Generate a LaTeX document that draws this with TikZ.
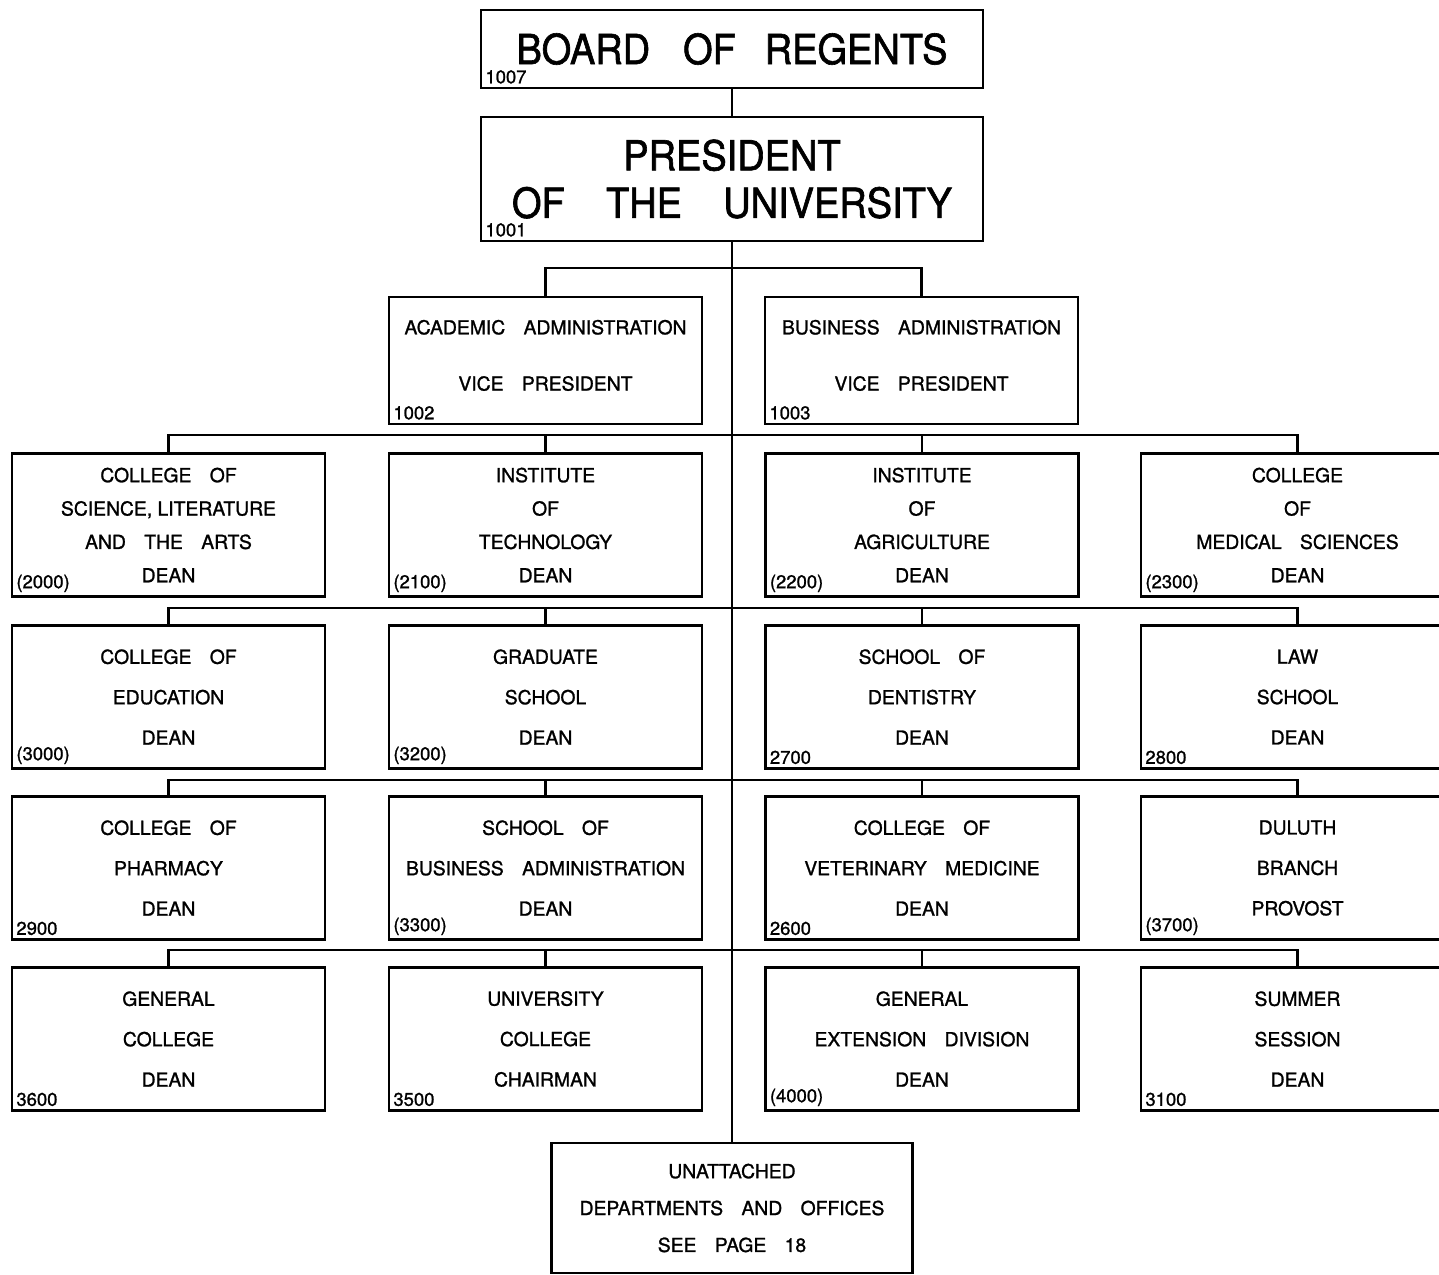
\documentclass[tikz,border=0pt]{standalone}
\usepackage{fontspec}
\setmainfont{TeX Gyre Heros}[FakeBold=1.2]
\newfontfamily\titlefont{TeX Gyre Heros}[FakeStretch=0.92, FakeBold=1.5]
\usetikzlibrary{positioning}
\newcommand{\gap}{\hspace{0.95em}}
\tikzset{
    % Define style for the two top boxes
    topbox/.style={
           rectangle,
           draw=black,
           line width=1.4pt,
           minimum width=10.04cm,
           inner sep=0pt,
           align=center,
           font=\titlefont\fontsize{23.5}{27}\selectfont},
    % Define style for the unit boxes
    unit/.style={
           rectangle,
           draw=black,
           line width=1.4pt,
           minimum width=6.26cm,
           minimum height=2.86cm,
           inner sep=0pt,
           align=center,
           font=\fontsize{11}{19}\selectfont},
    % Define style for the code numbers
    tag/.style={
           anchor=south west,
           inner sep=3pt,
           font=\fontsize{10.5}{10.5}\selectfont},
    % Define line style
    wire/.style={
           line width=1.4pt}
}
\begin{document}
\begin{tikzpicture}[x=0.02cm, y=-0.02cm]
    \useasboundingbox (0,0) rectangle (1439,1274);

    \node [topbox, minimum height=1.56cm] (board) at (732,49) {BOARD\hspace{0.8em}OF\hspace{0.7em}REGENTS};
    \node [topbox, minimum height=2.48cm] (pres) at (732,179) {PRESIDENT\\OF\quad THE\quad UNIVERSITY};
    \node [unit, minimum height=2.54cm] (acad) at (545.5,360.5) {ACADEMIC\gap ADMINISTRATION\\[13pt]VICE\gap PRESIDENT\\[-13pt]};
    \node [unit, minimum height=2.54cm] (busi) at (921.5,360.5) {BUSINESS\gap ADMINISTRATION\\[13pt]VICE\gap PRESIDENT\\[-13pt]};

    \node [unit] (sla) at (168.5,525) {COLLEGE\gap OF\\SCIENCE, LITERATURE\\AND\gap THE\gap ARTS\\DEAN};
    \node [unit] (tech) at (545.5,525) {INSTITUTE\\OF\\TECHNOLOGY\\DEAN};
    \node [unit] (agri) at (922,525) {INSTITUTE\\OF\\AGRICULTURE\\DEAN};
    \node [unit] (med) at (1297.5,525) {COLLEGE\\OF\\MEDICAL\gap SCIENCES\\DEAN};

    \node [unit] (edu) at (168.5,697) {COLLEGE\gap OF\\[4pt]EDUCATION\\[4pt]DEAN};
    \node [unit] (grad) at (545.5,697) {GRADUATE\\[4pt]SCHOOL\\[4pt]DEAN};
    \node [unit] (dent) at (922,697) {SCHOOL\gap OF\\[4pt]DENTISTRY\\[4pt]DEAN};
    \node [unit] (law) at (1297.5,697) {LAW\\[4pt]SCHOOL\\[4pt]DEAN};

    \node [unit] (pharm) at (168.5,868) {COLLEGE\gap OF\\[4pt]PHARMACY\\[4pt]DEAN};
    \node [unit] (busadm) at (545.5,868) {SCHOOL\gap OF\\[4pt]BUSINESS\gap ADMINISTRATION\\[4pt]DEAN};
    \node [unit] (vet) at (922,868) {COLLEGE\gap OF\\[4pt]VETERINARY\gap MEDICINE\\[4pt]DEAN};
    \node [unit] (duluth) at (1297.5,868) {DULUTH\\[4pt]BRANCH\\[4pt]PROVOST};

    \node [unit] (gencol) at (168.5,1039) {GENERAL\\[4pt]COLLEGE\\[4pt]DEAN};
    \node [unit] (univcol) at (545.5,1039) {UNIVERSITY\\[4pt]COLLEGE\\[4pt]CHAIRMAN};
    \node [unit] (ext) at (922,1039) {GENERAL\\[4pt]EXTENSION\gap DIVISION\\[4pt]DEAN};
    \node [unit] (summer) at (1297.5,1039) {SUMMER\\[4pt]SESSION\\[4pt]DEAN};

    \node [unit, minimum width=7.22cm, minimum height=2.6cm] (unatt) at (732,1208) {UNATTACHED\\[2pt]DEPARTMENTS\gap AND\gap OFFICES\\[2pt]SEE\gap PAGE\gap 18};

    % code numbers
    \node [tag] (n1007) at (board.south west) {1007};
    \node [tag] (n1001) at (pres.south west) {1001};
    \node [tag] (n1002) at (acad.south west) {1002};
    \node [tag] (n1003) at (busi.south west) {1003};
    \node [tag] (n2000) at (sla.south west) {(2000)};
    \node [tag] (n2100) at (tech.south west) {(2100)};
    \node [tag] (n2200) at (agri.south west) {(2200)};
    \node [tag] (n2300) at (med.south west) {(2300)};
    \node [tag] (n3000) at (edu.south west) {(3000)};
    \node [tag] (n3200) at (grad.south west) {(3200)};
    \node [tag] (n2700) at (dent.south west) {2700};
    \node [tag] (n2800) at (law.south west) {2800};
    \node [tag] (n2900) at (pharm.south west) {2900};
    \node [tag] (n3300) at (busadm.south west) {(3300)};
    \node [tag] (n2600) at (vet.south west) {2600};
    \node [tag] (n3700) at (duluth.south west) {(3700)};
    \node [tag] (n3600) at (gencol.south west) {3600};
    \node [tag] (n3500) at (univcol.south west) {3500};
    \node [tag] (n4000) at (ext.south west) {(4000)};
    \node [tag] (n3100) at (summer.south west) {3100};

    % connectors
    \draw [wire] (board.south) -- (pres.north);
    \draw [wire] (pres.south) -- (unatt.north);
    \coordinate (vpbus) at (732,268);
    \draw [wire] (acad.north) |- (vpbus) -| (busi.north);
    \foreach \a/\b/\c/\d/\y in {sla/tech/agri/med/435, edu/grad/dent/law/608,
                               pharm/busadm/vet/duluth/780, gencol/univcol/ext/summer/950} {
        \coordinate (bus) at (732,\y);
        \draw [wire] (\a.north) |- (bus) -| (\d.north);
        \draw [wire] (\b.north) -- (\b.north |- bus);
        \draw [wire] (\c.north) -- (\c.north |- bus);
    }
\end{tikzpicture}
\end{document}
